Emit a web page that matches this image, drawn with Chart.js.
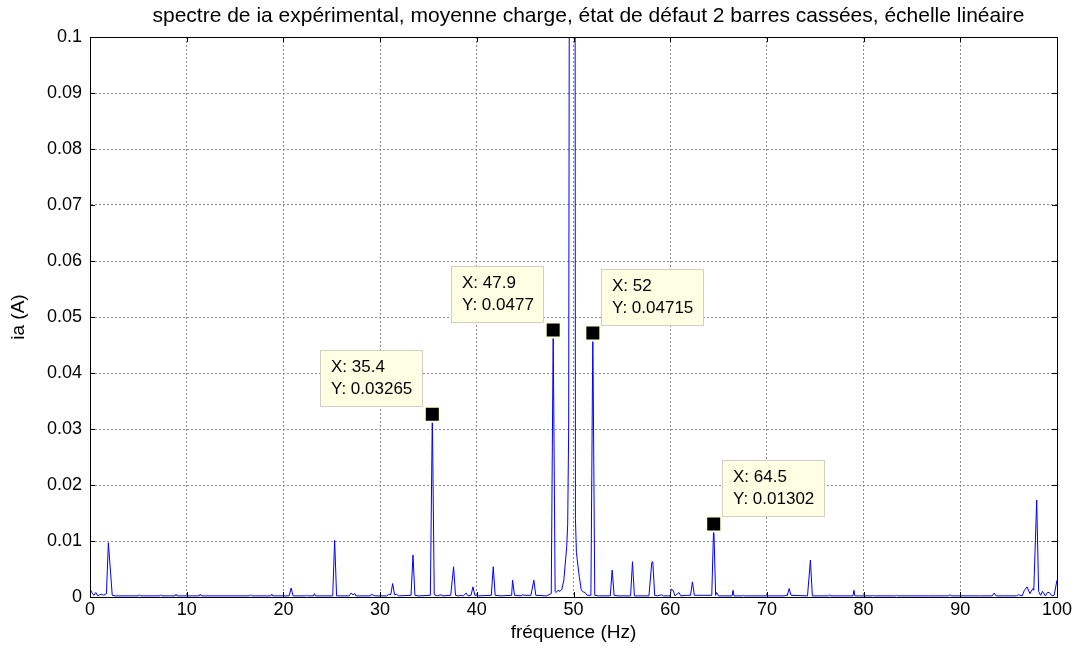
<!DOCTYPE html>
<html>
<head>
<meta charset="utf-8">
<script src="https://cdn.jsdelivr.net/npm/chart.js@4.4.1/dist/chart.umd.min.js"></script>
<style>
  html, body { margin: 0; padding: 0; background: #ffffff; }
  #wrap { width: 1081px; height: 657px; }
</style>
</head>
<body>
<div id="wrap"><canvas id="c" width="1081" height="657"></canvas></div>
<script>
// Spectrum of phase current ia (A) versus frequency (Hz)
const freqHz = [
  0.0, 0.2, 0.4, 0.6, 0.8, 1.0, 1.2, 1.4, 1.7, 1.9, 2.3, 2.6,
  5.0, 5.1, 5.2, 7.2, 7.3, 7.4, 8.8, 8.9, 9.0, 11.3, 11.4, 11.5,
  16.5, 16.6, 16.7, 18.7, 18.8, 18.9, 20.6, 20.8, 21.0, 22.3, 22.4, 22.5,
  23.1, 23.2, 23.3, 25.1, 25.3, 25.5, 26.8, 27.0, 27.2, 27.4, 27.5,
  29.0, 29.1, 29.3, 29.5, 30.7, 30.9, 31.1, 31.3, 31.5, 31.7, 31.9,
  33.2, 33.4, 33.6, 34.0, 35.2, 35.4, 35.6, 35.9, 36.3, 36.5,
  37.3, 37.6, 37.8, 38.1, 38.4, 38.6, 38.9, 39.1, 39.4, 39.6, 39.8, 40.0, 40.2,
  41.5, 41.7, 41.9, 42.5, 43.6, 43.7, 43.9, 44.6, 44.7, 44.9,
  45.6, 45.9, 46.1, 47.2, 47.7, 47.9, 48.1, 48.2, 48.4, 48.6, 48.8,
  49.0, 49.1, 49.3, 49.4, 49.5, 49.6, 49.8, 50.0, 50.1, 50.2, 50.3, 50.5,
  50.6, 50.7, 50.8, 51.0, 51.2, 51.4, 51.8, 52.0, 52.2, 52.6,
  53.8, 54.0, 54.2, 54.6, 55.9, 56.1, 56.3, 57.8, 58.1, 58.2, 58.4, 58.7,
  59.1, 59.3, 60.0, 60.1, 60.3, 60.5, 60.9, 61.1, 61.7, 62.1, 62.3, 62.5,
  64.3, 64.5, 64.7, 64.8, 65.0, 66.4, 66.5, 66.6, 67.5, 67.6, 67.7,
  71.9, 72.0, 72.1, 72.3, 72.5, 74.2, 74.5, 74.7, 76.4, 76.5, 76.6,
  78.9, 79.0, 79.1, 80.9, 81.0, 81.1, 83.3, 83.4, 83.5, 86.7, 88.8, 88.9, 89.1,
  92.1, 93.3, 93.5, 93.7, 95.8, 96.0, 96.2, 96.4, 96.6, 96.9, 97.2, 97.5,
  97.6, 97.9, 98.1, 98.3, 98.5, 98.8, 99.0, 99.2, 99.5, 99.7, 100.0
];
const iaAmp = [
  0.0014, 0.0008, 0.0003, 0.0008, 0.0002, 0.0004, 0.0005, 0.0003, 0.0006, 0.0097, 0.0003, 0.0002,
  0.0002, 0.0004, 0.0002, 0.0002, 0.0004, 0.0002, 0.0002, 0.0005, 0.0002, 0.0002, 0.0005, 0.0002,
  0.0002, 0.0004, 0.0002, 0.0002, 0.0005, 0.0002, 0.0002, 0.0016, 0.0002, 0.0002, 0.0003, 0.0002,
  0.0002, 0.0006, 0.0002, 0.0002, 0.0101, 0.0002, 0.0002, 0.0007, 0.0004, 0.0006, 0.0002,
  0.0002, 0.0005, 0.0003, 0.0002, 0.0002, 0.0005, 0.0004, 0.0024, 0.0004, 0.0005, 0.0002,
  0.0003, 0.0075, 0.0003, 0.0002, 0.0003, 0.03265, 0.0004, 0.0002, 0.0004, 0.0002,
  0.0003, 0.0054, 0.0003, 0.0002, 0.0003, 0.0002, 0.0007, 0.0002, 0.0003, 0.0018, 0.0003, 0.0003, 0.0002,
  0.0003, 0.0054, 0.0003, 0.0002, 0.0003, 0.0030, 0.0003, 0.0002, 0.0004, 0.0003,
  0.0003, 0.0030, 0.0003, 0.0002, 0.0006, 0.0477, 0.0010, 0.0008, 0.0012, 0.0010, 0.0014,
  0.0030, 0.0050, 0.0090, 0.0130, 0.0300, 0.1500, 0.6000, 1.2500, 0.3000, 0.0140, 0.0080, 0.0050,
  0.0036, 0.0025, 0.0013, 0.0009, 0.0008, 0.0003, 0.0003, 0.04715, 0.0003, 0.0002,
  0.0002, 0.0048, 0.0003, 0.0002, 0.0002, 0.0063, 0.0002, 0.0002, 0.0062, 0.0063, 0.0003, 0.0002,
  0.0004, 0.0002, 0.0002, 0.0014, 0.0012, 0.0002, 0.0008, 0.0002, 0.0003, 0.0003, 0.0027, 0.0003,
  0.0003, 0.01302, 0.0003, 0.0008, 0.0002, 0.0002, 0.0012, 0.0002, 0.0002, 0.0003, 0.0002,
  0.0002, 0.0004, 0.0002, 0.0015, 0.0003, 0.0002, 0.0066, 0.0002, 0.0002, 0.0004, 0.0002,
  0.0002, 0.0012, 0.0002, 0.0002, 0.0003, 0.0002, 0.0002, 0.0003, 0.0002, 0.0002, 0.0002, 0.0004, 0.0002,
  0.0002, 0.0002, 0.0007, 0.0002, 0.0002, 0.0004, 0.0003, 0.0002, 0.0011, 0.0018, 0.0006, 0.0015,
  0.0012, 0.0173, 0.0010, 0.0003, 0.0010, 0.0002, 0.0008, 0.0008, 0.0002, 0.0003, 0.0030
];

// Data tips on the sideband peaks
const tipX = [35.4, 47.9, 52, 64.5];
const tipY = [0.03265, 0.0477, 0.04715, 0.01302];
const tipSide = ['left', 'left', 'right', 'right'];

// Axis tick values
const xTicks = [0, 10, 20, 30, 40, 50, 60, 70, 80, 90, 100];
const yTicks = [0, 0.01, 0.02, 0.03, 0.04, 0.05, 0.06, 0.07, 0.08, 0.09, 0.1];

const titleText = 'spectre de ia expérimental, moyenne charge, état de défaut 2 barres cassées, échelle linéaire';
const FONT = '"Liberation Sans", Arial, sans-serif';

// Box around axes, inward tick marks and the title
const framePlugin = {
  id: 'frame',
  beforeDraw(chart) {
    const ctx = chart.ctx;
    ctx.save();
    ctx.fillStyle = '#ffffff';
    ctx.fillRect(0, 0, chart.width, chart.height);
    ctx.restore();
  },
  afterDraw(chart) {
    const { ctx, chartArea: a, scales } = chart;
    ctx.save();
    ctx.strokeStyle = '#000000';
    ctx.lineWidth = 1;
    ctx.beginPath();
    ctx.rect(Math.round(a.left) + 0.5, Math.round(a.top) + 0.5,
             Math.round(a.right - a.left), Math.round(a.bottom - a.top));
    ctx.stroke();
    const tl = 5;
    ctx.beginPath();
    xTicks.forEach(v => {
      const px = Math.round(scales.x.getPixelForValue(v)) + 0.5;
      ctx.moveTo(px, a.bottom); ctx.lineTo(px, a.bottom - tl);
      ctx.moveTo(px, a.top); ctx.lineTo(px, a.top + tl);
    });
    yTicks.forEach(v => {
      const py = Math.round(scales.y.getPixelForValue(v)) + 0.5;
      ctx.moveTo(a.left, py); ctx.lineTo(a.left + tl, py);
      ctx.moveTo(a.right, py); ctx.lineTo(a.right - tl, py);
    });
    ctx.stroke();
    ctx.fillStyle = '#000000';
    ctx.font = '21px ' + FONT;
    ctx.textAlign = 'center';
    ctx.textBaseline = 'alphabetic';
    ctx.fillText(titleText, (a.left + a.right) / 2 + 15, 22);
    ctx.restore();
  }
};

// Data tip boxes next to the marked points
const tipPlugin = {
  id: 'tips',
  afterDatasetsDraw(chart) {
    const { ctx, scales } = chart;
    ctx.save();
    ctx.font = '17px ' + FONT;
    tipX.forEach((xv, i) => {
      const px = scales.x.getPixelForValue(xv);
      const py = scales.y.getPixelForValue(tipY[i]);
      const l1 = 'X: ' + xv;
      const l2 = 'Y: ' + tipY[i];
      const w = Math.ceil(Math.max(ctx.measureText(l1).width, ctx.measureText(l2).width)) + 21;
      const h = 57;
      const bottom = py - 7;
      const left = tipSide[i] === 'left' ? px - 9 - w : px + 8;
      const top = bottom - h;
      ctx.fillStyle = '#ffffe3';
      ctx.fillRect(Math.round(left), Math.round(top), w, h);
      ctx.strokeStyle = '#cfcfc4';
      ctx.lineWidth = 1;
      ctx.strokeRect(Math.round(left) + 0.5, Math.round(top) + 0.5, w - 1, h - 1);
      ctx.fillStyle = '#000000';
      ctx.textAlign = 'left';
      ctx.textBaseline = 'middle';
      ctx.fillText(l1, Math.round(left) + 11, Math.round(top) + 17);
      ctx.fillText(l2, Math.round(left) + 11, Math.round(top) + 39);
    });
    ctx.restore();
  }
};

new Chart(document.getElementById('c'), {
  type: 'line',
  data: {
    datasets: [
      {
        type: 'scatter',
        data: tipX.map((x, i) => ({ x: x, y: tipY[i] })),
        pointStyle: 'rect',
        pointRadius: 10.6,
        pointBorderWidth: 2,
        pointBackgroundColor: '#000000',
        pointBorderColor: '#ffffe3',
        order: 0
      },
      {
        data: freqHz.map((f, i) => ({ x: f, y: iaAmp[i] })),
        borderColor: '#0000ff',
        borderWidth: 1,
        pointRadius: 0,
        tension: 0,
        fill: false,
        order: 1
      }
    ]
  },
  plugins: [framePlugin, tipPlugin],
  options: {
    responsive: false,
    animation: false,
    events: [],
    layout: { padding: { left: 0, right: 24, top: 37, bottom: 0 } },
    plugins: { legend: { display: false }, tooltip: { enabled: false }, title: { display: false } },
    scales: {
      x: {
        type: 'linear', min: 0, max: 100,
        afterFit(s) { s.height = 60; },
        afterBuildTicks(s) { s.ticks = xTicks.map(v => ({ value: v })); },
        ticks: { color: '#000', font: { family: FONT, size: 18 }, padding: 2, maxRotation: 0 },
        grid: { color: '#8a8a8a', drawTicks: false, lineWidth: 1 },
        border: { display: true, color: '#000', dash: [2, 2] },
        title: { display: true, text: 'fréquence (Hz)', color: '#000', font: { family: FONT, size: 19 }, padding: { top: 2, bottom: 13 } }
      },
      y: {
        type: 'linear', min: 0, max: 0.1,
        afterFit(s) { s.width = 90; },
        afterBuildTicks(s) { s.ticks = yTicks.map(v => ({ value: v })); },
        ticks: { color: '#000', font: { family: FONT, size: 18 }, padding: 8, callback: v => String(+v.toFixed(2)) },
        grid: { color: '#8a8a8a', drawTicks: false, lineWidth: 1 },
        border: { display: true, color: '#000', dash: [2, 2] },
        title: { display: true, text: 'ia (A)', color: '#000', font: { family: FONT, size: 19 }, padding: { top: 7, bottom: 6 } }
      }
    }
  }
});
</script>
</body>
</html>
